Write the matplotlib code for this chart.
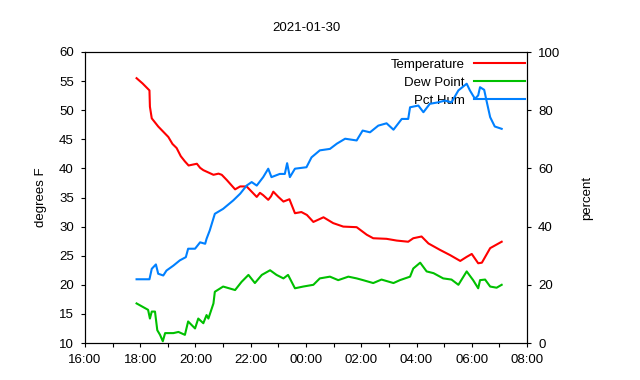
"""Overnight temperature, dew point and humidity plot"""
import pandas as pd
import matplotlib
matplotlib.use('Agg')
from matplotlib import pyplot as plt
import matplotlib.dates as mdates

DAY = '2021-01-30'

temp_times = ['17:52', '18:05', '18:20', '18:21', '18:25', '18:39', '18:50', '19:01', '19:10',
              '19:19', '19:28', '19:37', '19:45', '20:03', '20:10', '20:17', '20:39', '20:50',
              '20:57', '21:08', '21:26', '21:37', '21:51', '22:02', '22:13', '22:20', '22:27',
              '22:38', '22:44', '22:49', '23:00', '23:11', '23:24', '23:36', '23:50', '00:02',
              '00:16', '00:38', '00:59', '01:21', '01:50', '02:12', '02:26', '02:55', '03:17',
              '03:42', '03:53', '04:11', '04:26', '04:51', '05:13', '05:35', '05:49', '06:00',
              '06:14', '06:22', '06:40', '07:05']
temp_vals = [55.5, 54.6, 53.4, 50.6, 48.6, 47.2, 46.3, 45.4, 44.2,
             43.5, 42.1, 41.2, 40.5, 40.8, 40.1, 39.7, 38.9, 39.1,
             38.9, 38.0, 36.4, 36.9, 36.9, 36.0, 35.1, 35.8, 35.4,
             34.6, 35.2, 36.0, 35.1, 34.3, 34.7, 32.3, 32.5, 32.0,
             30.8, 31.6, 30.6, 30.0, 29.9, 28.6, 28.0, 27.9, 27.6,
             27.4, 28.0, 28.3, 27.1, 26.0, 25.1, 24.1, 24.8, 25.3,
             23.7, 23.8, 26.3, 27.4]

dew_times = ['17:52', '18:17', '18:21', '18:25', '18:32', '18:37', '18:43', '18:49', '18:54',
             '19:12', '19:23', '19:37', '19:44', '19:59', '20:06', '20:17', '20:24', '20:28',
             '20:39', '20:42', '21:00', '21:26', '21:40', '21:55', '22:09', '22:24', '22:42',
             '22:56', '23:11', '23:21', '23:36', '23:54', '00:16', '00:30', '00:52', '01:10',
             '01:32', '01:50', '02:04', '02:26', '02:44', '03:10', '03:24', '03:46', '03:53',
             '04:08', '04:22', '04:37', '04:58', '05:16', '05:31', '05:49', '06:03', '06:14',
             '06:18', '06:29', '06:40', '06:54', '07:05']
dew_vals = [16.8, 15.7, 14.2, 15.4, 15.4, 12.2, 11.4, 10.3, 11.7,
            11.7, 11.9, 11.4, 13.7, 12.5, 14.2, 13.4, 14.8, 14.2,
            16.8, 18.8, 19.7, 19.1, 20.5, 21.7, 20.3, 21.7, 22.5,
            21.7, 21.1, 21.7, 19.4, 19.7, 20.0, 21.1, 21.4, 20.8,
            21.4, 21.1, 20.8, 20.3, 20.9, 20.3, 20.8, 21.4, 22.8,
            23.8, 22.3, 22.0, 21.1, 20.9, 20.0, 22.3, 20.8, 19.4,
            20.8, 20.9, 19.7, 19.5, 20.0]

hum_times = ['17:52', '18:20', '18:25', '18:34', '18:39', '18:50', '18:57', '19:12', '19:26',
             '19:39', '19:44', '19:59', '20:10', '20:21', '20:24', '20:31', '20:42', '21:00',
             '21:22', '21:37', '21:51', '22:02', '22:13', '22:27', '22:38', '22:45', '23:03',
             '23:14', '23:19', '23:25', '23:36', '00:01', '00:12', '00:30', '00:52', '01:07',
             '01:25', '01:50', '02:03', '02:19', '02:37', '02:55', '03:10', '03:28', '03:42',
             '03:46', '04:04', '04:15', '04:29', '04:47', '05:02', '05:16', '05:31', '05:49',
             '05:56', '06:07', '06:14', '06:18', '06:27', '06:32', '06:40', '06:50', '07:05']
hum_vals = [21.9, 21.9, 25.5, 27.0, 23.8, 23.2, 24.9, 26.6, 28.4,
            29.5, 32.4, 32.4, 34.6, 34.1, 35.8, 38.7, 44.4, 46.1,
            49.0, 51.3, 54.1, 55.3, 54.1, 57.0, 59.9, 57.0, 58.1,
            58.1, 61.8, 57.0, 59.9, 60.4, 63.8, 66.2, 66.7, 68.5,
            70.2, 69.6, 73.0, 72.4, 74.7, 75.5, 73.3, 77.0, 77.0,
            81.0, 81.6, 79.3, 82.2, 82.7, 83.3, 82.7, 86.8, 89.1,
            86.8, 83.9, 85.1, 87.9, 87.0, 83.3, 77.6, 74.4, 73.6]


def to_datetimes(times):
    """Evening times fall on DAY, morning times on the next day"""
    base = pd.Timestamp(DAY)
    out = []
    for t in times:
        stamp = base + pd.Timedelta(t + ':00')
        if stamp.hour < 12:
            stamp += pd.Timedelta(days=1)
        out.append(stamp)
    return out


plt.rcParams['font.family'] = ['Liberation Sans', 'DejaVu Sans']
plt.rcParams['font.size'] = 9

fig = plt.figure(figsize=(6.4, 3.8), dpi=100)
ax = fig.add_axes([85 / 640, 1 - 343 / 380, 442 / 640, 291 / 380])
ax2 = ax.twinx()

l1, = ax.plot(to_datetimes(temp_times), temp_vals, color='#ff0000', lw=1.5, label='Temperature')
l2, = ax.plot(to_datetimes(dew_times), dew_vals, color='#00c000', lw=1.5, label='Dew Point')
l3, = ax2.plot(to_datetimes(hum_times), hum_vals, color='#0080ff', lw=1.5, label='Pct Hum')

ax.set_xlim(pd.Timestamp(DAY + ' 16:00'), pd.Timestamp(DAY + ' 16:00') + pd.Timedelta(hours=16))
ax.set_ylim(10, 60)
ax.set_yticks(range(10, 61, 5))
ax2.set_ylim(0, 100)
ax2.set_yticks(range(0, 101, 20))

ax.xaxis.set_major_locator(mdates.HourLocator(interval=2))
ax.xaxis.set_minor_locator(mdates.HourLocator())
ax.xaxis.set_major_formatter(mdates.DateFormatter('%H:%M'))

for a in (ax, ax2):
    a.tick_params(direction='out', length=3, width=0.8, pad=5, labelsize=9.5)
    a.tick_params(which='minor', direction='out', length=3, width=0.8)
    for s in a.spines.values():
        s.set_linewidth(0.8)

ax.set_ylabel('degrees F', labelpad=9, fontsize=9.5)
ax2.set_ylabel('percent', labelpad=15, fontsize=9.5)
ax.set_title(DAY, pad=15, fontsize=9.5)

leg = ax.legend(handles=[l1, l2, l3], loc='upper right', bbox_to_anchor=(1.0, 0.985),
                frameon=False, markerfirst=False, handlelength=3.9, handletextpad=0.65,
                labelspacing=0.45, borderaxespad=0.0, borderpad=0.15, fontsize=9.5)
leg.set_zorder(1)

fig.savefig('out.png', dpi=100)
